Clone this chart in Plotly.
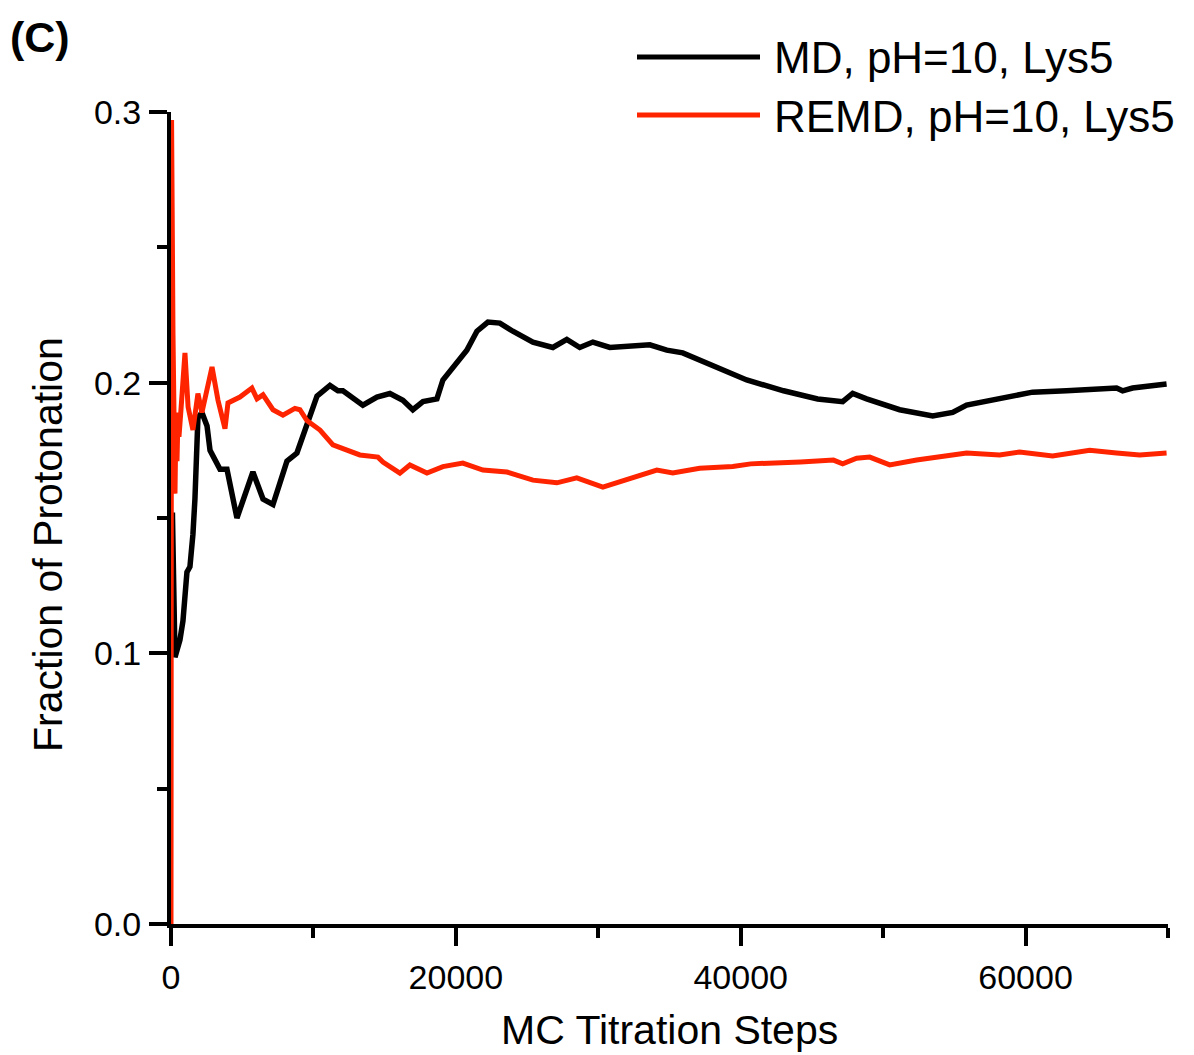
import plotly.graph_objects as go

# ---------------- data ----------------
md_steps = [100, 280, 630, 840, 1120, 1330, 1540, 1680, 1890, 2170, 2530, 2740, 3440, 3930,
            4630, 5050, 5750, 6460, 7160, 7650, 8140, 8840, 9540, 10250, 11160, 11720, 12070,
            13470, 14460, 15370, 16280, 16980, 17690, 18670, 19090, 20070, 20770, 21480, 22250,
            23090, 24000, 25410, 26810, 27790, 28700, 29620, 30810, 33620, 34810, 35930, 38320,
            40420, 43010, 45400, 47160, 47860, 48840, 51160, 53480, 54880, 55860, 58180, 60490,
            62880, 66390, 66810, 67510, 69900]
md_frac = [0.152, 0.0986, 0.105, 0.112, 0.130, 0.132, 0.144, 0.157, 0.187, 0.189, 0.184, 0.175,
           0.168, 0.168, 0.150, 0.157, 0.167, 0.157, 0.155, 0.163, 0.171, 0.174, 0.184, 0.195,
           0.199, 0.197, 0.197, 0.1917, 0.1947, 0.196, 0.1935, 0.190, 0.193, 0.194, 0.201,
           0.2076, 0.212, 0.219, 0.2224, 0.222, 0.219, 0.215, 0.213, 0.216, 0.213, 0.215, 0.213,
           0.214, 0.212, 0.211, 0.2058, 0.201, 0.197, 0.194, 0.193, 0.196, 0.194, 0.190, 0.1877,
           0.189, 0.1917, 0.194, 0.1965, 0.197, 0.198, 0.197, 0.198, 0.1995]

remd_steps = [0, 40, 100, 140, 200, 280, 350, 420, 500, 560, 700, 980, 1200, 1540, 1890, 2170,
              2880, 3300, 3790, 4000, 4840, 5330, 5680, 6040, 6460, 7160, 7860, 8700, 9050, 9540,
              10460, 11370, 11860, 13260, 14530, 14880, 16070, 16770, 17970, 19090, 20490, 21900,
              23580, 25410, 27090, 28490, 30320, 31510, 32420, 34110, 35230, 37120, 39440, 40700,
              44200, 46510, 47160, 48140, 49060, 50460, 52350, 54670, 55860, 58180, 59580, 61900,
              64500, 66390, 68010, 69900]
remd_frac = [0.0, 0.297, 0.250, 0.218, 0.189, 0.159, 0.187, 0.171, 0.189, 0.180, 0.190, 0.211,
             0.191, 0.1825, 0.196, 0.189, 0.2058, 0.1935, 0.183, 0.1925, 0.1947, 0.1965, 0.198,
             0.194, 0.1955, 0.190, 0.188, 0.1905, 0.190, 0.186, 0.1825, 0.177, 0.176, 0.1733,
             0.1725, 0.1707, 0.1666, 0.1696, 0.1666, 0.169, 0.1703, 0.1677, 0.167, 0.164, 0.163,
             0.1648, 0.1614, 0.1633, 0.1651, 0.1677, 0.1666, 0.1684, 0.169, 0.170, 0.1707, 0.1714,
             0.170, 0.1721, 0.1725, 0.1696, 0.1714, 0.1729, 0.174, 0.1733, 0.1744, 0.1729, 0.175,
             0.174, 0.1733, 0.174]

series_names = ["MD, pH=10, Lys5", "REMD, pH=10, Lys5"]
x_tick_vals = [0, 20000, 40000, 60000]
y_tick_vals = [0.0, 0.1, 0.2, 0.3]
y_tick_text = ["0.0", "0.1", "0.2", "0.3"]

# ---------------- styling / layout ----------------
# the page body has an 8px margin, so the figure is made 8px smaller
W, H = 1186, 1047
L, R, T, B = 163, 26, 104, 131
# plot area in page pixels (for placing decorations)
PX_L, PX_R, PX_T, PX_B = 171, 1168, 112, 924
BLACK = "#000000"
RED = "#ff2400"
FONT = "Liberation Sans, Arial, sans-serif"


def px_x(px):
    return (px - PX_L) / (PX_R - PX_L)


def px_y(py):
    return (PX_B - py) / (PX_B - PX_T)


fig = go.Figure()
fig.add_trace(go.Scatter(x=md_steps, y=md_frac, mode="lines", name=series_names[0],
                         line=dict(color=BLACK, width=5.5), showlegend=False))
fig.add_trace(go.Scatter(x=remd_steps, y=remd_frac, mode="lines", name=series_names[1],
                         line=dict(color=RED, width=5), showlegend=False))

axis_common = dict(
    showgrid=False, zeroline=False, showline=True, linecolor=BLACK, linewidth=4,
    ticks="outside", ticklen=18, tickwidth=4, tickcolor=BLACK,
    tickfont=dict(family=FONT, size=34, color=BLACK),
)

fig.update_xaxes(
    range=[0, 70000], tickvals=x_tick_vals, ticktext=[str(v) for v in x_tick_vals],
    minor=dict(dtick=10000, tick0=0, ticks="outside", ticklen=10, tickwidth=4, tickcolor=BLACK),
    ticklabelstandoff=2,
    **axis_common,
)
fig.update_yaxes(
    range=[0, 0.3], tickvals=y_tick_vals, ticktext=y_tick_text,
    minor=dict(dtick=0.05, tick0=0, ticks="outside", ticklen=10, tickwidth=4, tickcolor=BLACK),
    ticklabelstandoff=1,
    **axis_common,
)

# axis titles
fig.add_annotation(xref="paper", yref="paper", x=px_x(669), y=px_y(1030),
                   xanchor="center", yanchor="middle", showarrow=False,
                   text="MC Titration Steps",
                   font=dict(family=FONT, size=41, color=BLACK))
fig.add_annotation(xref="paper", yref="paper", x=px_x(48), y=px_y(545),
                   xanchor="center", yanchor="middle", showarrow=False, textangle=-90,
                   text="Fraction of Protonation",
                   font=dict(family=FONT, size=41, color=BLACK))

# manual legend (long line samples as in the reference)
legend_rows = [(series_names[0], BLACK, 57), (series_names[1], RED, 115)]
for name, color, py in legend_rows:
    fig.add_shape(type="line", xref="paper", yref="paper",
                  x0=px_x(637), x1=px_x(760), y0=px_y(py), y1=px_y(py),
                  line=dict(color=color, width=5))
    fig.add_annotation(xref="paper", yref="paper", x=px_x(772), y=px_y(py + 1),
                       xanchor="left", yanchor="middle", showarrow=False, text=name,
                       font=dict(family=FONT, size=44, color=BLACK))

fig.add_annotation(xref="paper", yref="paper", x=px_x(8), y=px_y(37),
                   xanchor="left", yanchor="middle", showarrow=False, text="<b>(C)</b>",
                   font=dict(family=FONT, size=43, color=BLACK))

fig.update_layout(
    width=W, height=H, margin=dict(l=L, r=R, t=T, b=B, autoexpand=False),
    plot_bgcolor="white", paper_bgcolor="white", showlegend=False,
)

fig.write_html("out.html")
